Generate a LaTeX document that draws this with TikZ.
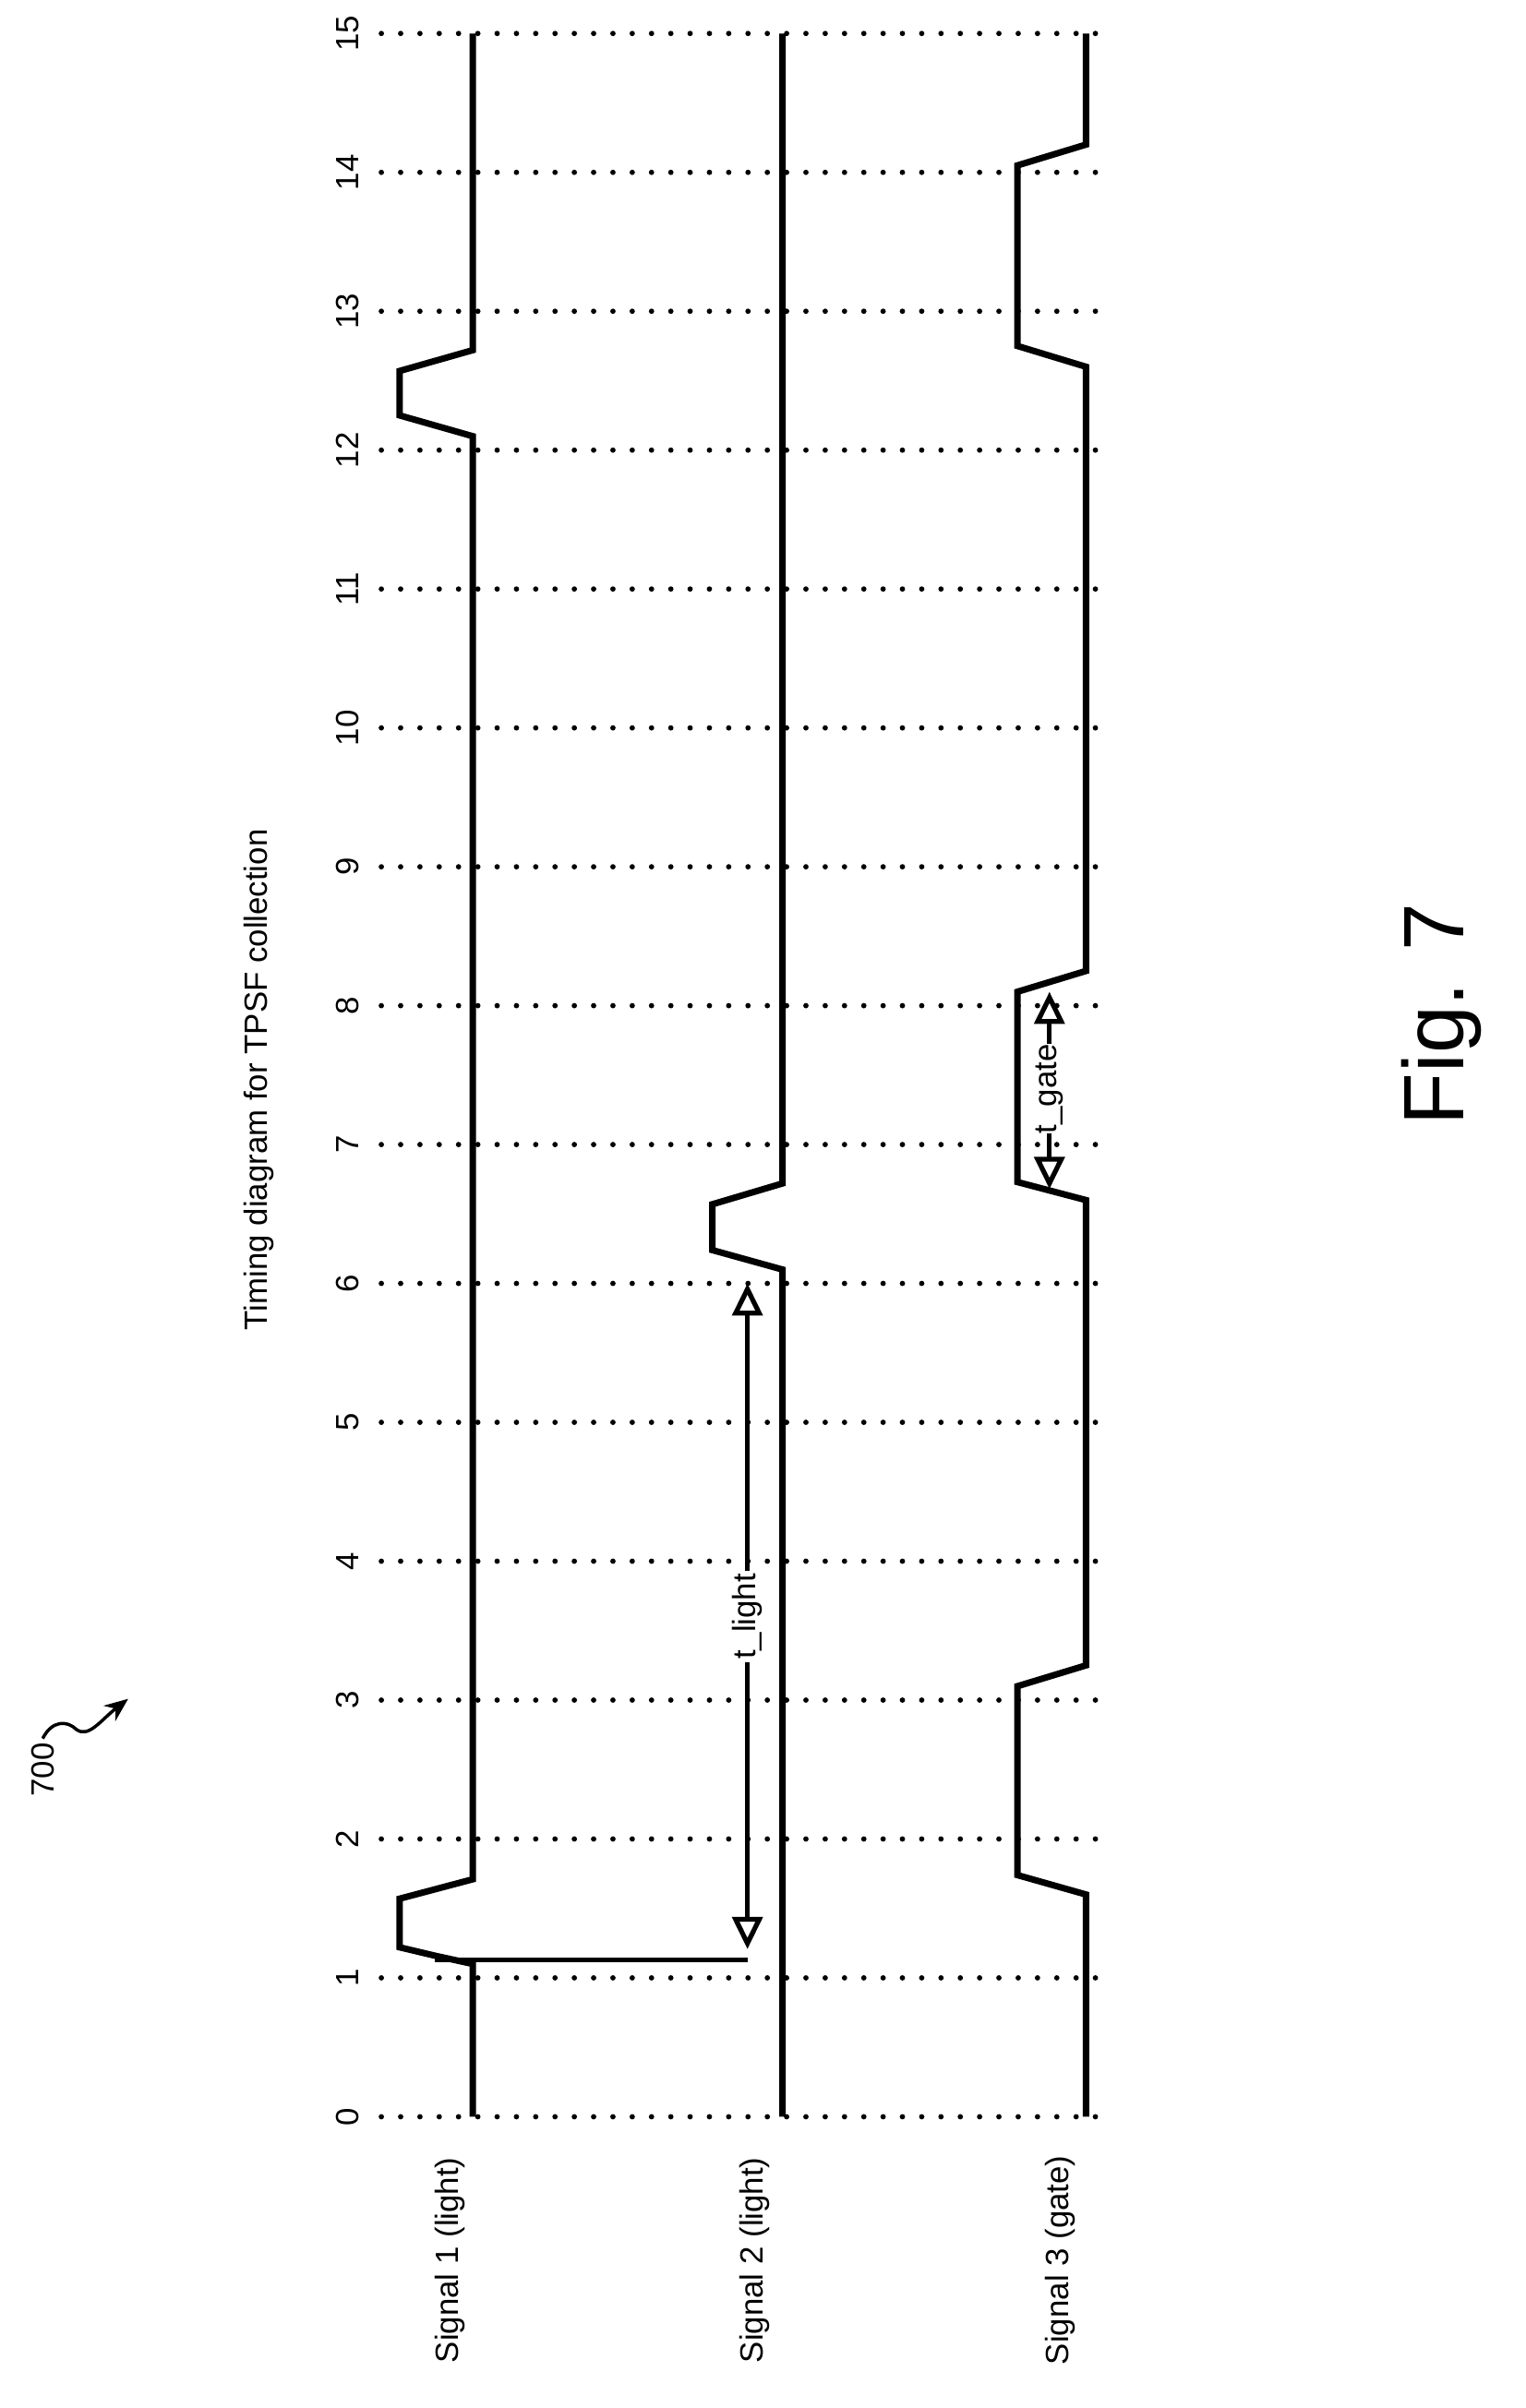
\documentclass[tikz,border=0pt]{standalone}
\usepackage{fontspec}
\setmainfont{Liberation Sans}
\usetikzlibrary{arrows.meta,positioning}
\begin{document}
\begin{tikzpicture}[x=0.05cm,y=-0.05cm,
  declare function={T(\t)=1388-91.07*\t;},
  every node/.style={font=\fontsize{30}{36}\selectfont}]

\tikzstyle{grid}=[line width=5pt,line cap=round,dash pattern=on 0pt off 18pt];
\tikzstyle{wave}=[line width=6pt,line join=miter];
\tikzstyle{dim}=[line width=4.5pt,-{Triangle[open,length=30pt,width=28pt,line width=4.5pt]}];
\tikzstyle{lbl}=[rotate=90,inner sep=4pt];

\useasboundingbox (0,0) rectangle (1000,1579);

% time grid
\foreach \k in {0,...,15}{
  \node[lbl] (n\k) at (228,{T(\k)}) {\k};
  \draw[grid] (250,{T(\k)}) -- (722,{T(\k)});
}

% signals
\draw[wave] (310,{T(0)}) -- (310,{T(1.1)}) -- (285,{T(1.16)}) -- (262,{T(1.22)}) -- (262,{T(1.57)})
  -- (310,{T(1.71)}) -- (310,{T(12.1)}) -- (262,{T(12.25)}) -- (262,{T(12.57)}) -- (310,{T(12.72)}) -- (310,{T(15)});
\draw[wave] (513,{T(0)}) -- (513,{T(6.1)}) -- (467,{T(6.24)}) -- (467,{T(6.57)}) -- (513,{T(6.72)}) -- (513,{T(15)});
\draw[wave] (712,{T(0)}) -- (712,{T(1.6)}) -- (667,{T(1.74)}) -- (667,{T(3.1)}) -- (712,{T(3.25)})
  -- (712,{T(6.6)}) -- (667,{T(6.73)}) -- (667,{T(8.1)}) -- (712,{T(8.25)})
  -- (712,{T(12.6)}) -- (667,{T(12.75)}) -- (667,{T(14.05)}) -- (712,{T(14.2)}) -- (712,{T(15)});

% t_light
\coordinate (l0) at (285,{T(1.13)});
\coordinate (l1) at (490,{T(1.13)});
\coordinate (l2) at (490,{T(6)});
\node[lbl,fill=white,inner sep=2pt] (tl) at (490,1060) {t\_light};
\draw[line width=4.5pt] (l0) -- (l1);
\draw[dim] (tl) -- ([yshift=10pt]l1);
\draw[dim] (tl) -- (l2);

% t_gate
\coordinate (g1) at (688,{T(6.68)});
\coordinate (g2) at (688,{T(8.1)});
\node[lbl,fill=white,inner sep=0pt] (tg) at (688,714) {t\_gate};
\draw[dim] (tg) -- (g1);
\draw[dim] (tg) -- (g2);

% labels
\node[lbl] (s1) at (295,1482) {Signal 1 (light)};
\node[lbl] (s2) at (495,1482) {Signal 2 (light)};
\node[lbl] (s3) at (695,1482) {Signal 3 (gate)};
\node[lbl] (ttl) at (170,708) {Timing diagram for TPSF collection};
\node[rotate=90,font=\fontsize{80}{90}\selectfont] (fig) at (945,665) {Fig. 7};

% reference numeral
\node[lbl,anchor=east] (ref) at (28,1140) {700};
\coordinate (refend) at (84,1114);
\draw[line width=3pt,-{Stealth[length=22pt,width=18pt]}] (ref.east) .. controls (34,1128) and (44,1128) .. (50,1134)
  .. controls (58,1140) and (66,1128) .. (refend);
\end{tikzpicture}
\end{document}
